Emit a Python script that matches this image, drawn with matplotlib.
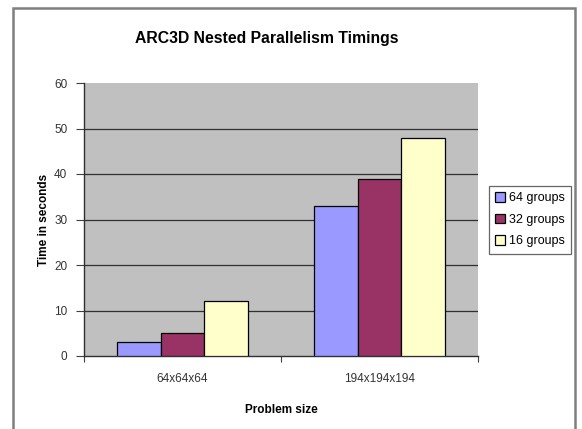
import numpy as np
import matplotlib.pyplot as plt
from matplotlib.patches import Rectangle

plt.rcParams['font.family'] = ['Liberation Sans', 'DejaVu Sans']

# problem sizes and run times (seconds) for each thread-group count
sizes = ['64x64x64', '194x194x194']
groups = ['64 groups', '32 groups', '16 groups']
t_64 = [3, 33]
t_32 = [5, 39]
t_16 = [12, 48]
colors = ['#9999FF', '#993366', '#FFFFCC']

fig = plt.figure(figsize=(5.82, 4.29), dpi=100)
ax = fig.add_axes([84 / 582, 1 - 356 / 429, 394 / 582, 273 / 429])

# chart frame
fig.patches.append(Rectangle((13 / 582, -0.05), 562 / 582, 1.05 - 8 / 429,
                             transform=fig.transFigure, fill=False,
                             edgecolor='#7f7f7f', linewidth=1.8))

x = np.arange(len(sizes))
w = 1 / 4.5
for k, (vals, lab) in enumerate(zip([t_64, t_32, t_16], groups)):
    ax.bar(x + (k - 1) * w, vals, w, color=colors[k], edgecolor='black',
           linewidth=0.9, label=lab, zorder=3)

ax.set_facecolor('#C0C0C0')
ax.set_xlim(-0.5, 1.5)
ax.set_ylim(0, 60)
ax.set_yticks(range(0, 61, 10))
# major gridlines, none along the top edge
for yv in range(10, 60, 10):
    ax.axhline(yv, color='#303030', linewidth=0.9, zorder=1)

ax.set_xticks([-0.5, 0.5, 1.5])
ax.set_xticklabels([])
ax.set_xticks(x, minor=True)
ax.set_xticklabels(sizes, minor=True)
ax.tick_params(axis='x', which='major', direction='out', length=4,
               color='#404040')
ax.tick_params(axis='x', which='minor', length=0, pad=12, labelsize=8.5,
               labelcolor='#333333')
ax.tick_params(axis='y', direction='out', length=6, labelsize=8.5,
               labelcolor='#333333', color='#404040', pad=6)

for s in ['top', 'right']:
    ax.spines[s].set_visible(False)
for s in ['left', 'bottom']:
    ax.spines[s].set_color('#303030')
    ax.spines[s].set_linewidth(1.0)

ax.set_xlabel('Problem size', fontsize=8.5, fontweight='bold', labelpad=14)
ax.set_ylabel('Time in seconds', fontsize=8.5, fontweight='bold', labelpad=3)
fig.text(267 / 582, 1 - 38 / 429, 'ARC3D Nested Parallelism Timings',
         ha='center', va='center', fontsize=11.3, fontweight='bold')

leg = ax.legend(loc='upper left', bbox_to_anchor=(489 / 582, 1 - 186 / 429),
                bbox_transform=fig.transFigure, fontsize=9, frameon=True,
                fancybox=False, edgecolor='#404040', handlelength=0.8,
                handleheight=0.8, handletextpad=0.3, labelspacing=0.75,
                borderpad=0.5, borderaxespad=0)
leg.get_frame().set_linewidth(0.9)

fig.savefig('out.png', dpi=100)
